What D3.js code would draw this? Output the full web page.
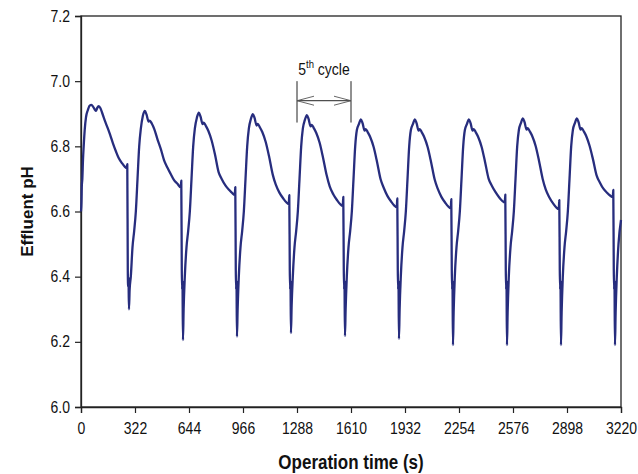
<!DOCTYPE html>
<html>
<head>
<meta charset="utf-8">
<script src="https://cdn.jsdelivr.net/npm/d3@7/dist/d3.min.js"></script>
<style>
	html, body { margin: 0; padding: 0; background: #fff; }
	svg text { font-family: "Liberation Sans", Arial, sans-serif; fill: #111; }
</style>
</head>
<body>
<svg id="chart" width="638" height="474"></svg>
<script>
	// Effluent pH readings [time (s), pH], one line per operation cycle
	const effluentPH = [
		[0, 6.60], [3, 6.63], [5, 6.68], [8, 6.70], [12, 6.76], [16, 6.80], [22, 6.85], [30, 6.89], [40, 6.91], [52, 6.925], [62, 6.927], [72, 6.922], [82, 6.913], [90, 6.909], [97, 6.918], [106, 6.923], [116, 6.917], [128, 6.90], [145, 6.875], [160, 6.855], [174, 6.835], [190, 6.81], [208, 6.785], [224, 6.765], [245, 6.748], [262, 6.737], [272, 6.733], [276, 6.745],
		[279, 6.42], [281, 6.37], [283, 6.40], [286, 6.30], [290, 6.36], [297, 6.40], [307, 6.49], [317, 6.54], [327, 6.60], [337, 6.70], [347, 6.80], [357, 6.855], [369, 6.894], [381, 6.909], [391, 6.897], [403, 6.876], [410, 6.879], [422, 6.87], [437, 6.853], [457, 6.82], [477, 6.79], [495, 6.758], [515, 6.735], [535, 6.715], [554, 6.697], [575, 6.685], [595, 6.674], [598, 6.695],
		[601, 6.42], [603, 6.36], [605, 6.39], [608, 6.205], [612, 6.30], [619, 6.40], [629, 6.49], [639, 6.54], [649, 6.60], [659, 6.70], [669, 6.80], [679, 6.855], [691, 6.888], [703, 6.903], [713, 6.891], [725, 6.868], [732, 6.873], [744, 6.863], [759, 6.848], [779, 6.818], [799, 6.775], [821, 6.72], [839, 6.70], [861, 6.68], [884, 6.666], [901, 6.657], [917, 6.651], [920, 6.675],
		[923, 6.42], [925, 6.36], [927, 6.39], [930, 6.216], [934, 6.30], [941, 6.40], [951, 6.49], [961, 6.54], [971, 6.60], [981, 6.70], [991, 6.80], [1001, 6.855], [1013, 6.884], [1025, 6.899], [1035, 6.887], [1047, 6.864], [1054, 6.869], [1066, 6.859], [1081, 6.844], [1101, 6.814], [1121, 6.77], [1143, 6.714], [1161, 6.683], [1183, 6.658], [1206, 6.64], [1223, 6.629], [1239, 6.623], [1242, 6.65],
		[1245, 6.42], [1247, 6.36], [1249, 6.39], [1252, 6.227], [1256, 6.31], [1263, 6.40], [1273, 6.49], [1283, 6.54], [1293, 6.60], [1303, 6.70], [1313, 6.80], [1323, 6.855], [1335, 6.881], [1347, 6.896], [1357, 6.884], [1369, 6.861], [1376, 6.866], [1388, 6.856], [1403, 6.841], [1423, 6.811], [1443, 6.766], [1465, 6.711], [1483, 6.677], [1505, 6.652], [1528, 6.634], [1545, 6.623], [1561, 6.617], [1564, 6.645],
		[1567, 6.42], [1569, 6.36], [1571, 6.39], [1574, 6.218], [1578, 6.30], [1585, 6.40], [1595, 6.49], [1605, 6.54], [1615, 6.60], [1625, 6.70], [1635, 6.80], [1645, 6.85], [1657, 6.868], [1669, 6.883], [1679, 6.871], [1691, 6.848], [1698, 6.853], [1710, 6.843], [1725, 6.828], [1745, 6.798], [1765, 6.753], [1787, 6.698], [1805, 6.673], [1827, 6.648], [1850, 6.63], [1867, 6.619], [1883, 6.613], [1886, 6.64],
		[1889, 6.42], [1891, 6.36], [1893, 6.39], [1896, 6.209], [1900, 6.30], [1907, 6.40], [1917, 6.49], [1927, 6.54], [1937, 6.60], [1947, 6.70], [1957, 6.80], [1967, 6.85], [1979, 6.868], [1991, 6.883], [2001, 6.871], [2013, 6.848], [2020, 6.853], [2032, 6.843], [2047, 6.828], [2067, 6.798], [2087, 6.753], [2109, 6.698], [2127, 6.67], [2149, 6.645], [2172, 6.627], [2189, 6.616], [2205, 6.61], [2208, 6.638],
		[2211, 6.42], [2213, 6.36], [2215, 6.39], [2218, 6.19], [2222, 6.29], [2229, 6.40], [2239, 6.49], [2249, 6.54], [2259, 6.60], [2269, 6.70], [2279, 6.80], [2289, 6.85], [2301, 6.868], [2313, 6.883], [2323, 6.871], [2335, 6.848], [2342, 6.853], [2354, 6.843], [2369, 6.828], [2389, 6.798], [2409, 6.753], [2431, 6.70], [2449, 6.68], [2471, 6.66], [2494, 6.643], [2511, 6.633], [2527, 6.627], [2530, 6.652],
		[2533, 6.42], [2535, 6.36], [2537, 6.39], [2540, 6.19], [2544, 6.29], [2551, 6.40], [2561, 6.49], [2571, 6.54], [2581, 6.60], [2591, 6.70], [2601, 6.80], [2611, 6.85], [2623, 6.871], [2635, 6.886], [2645, 6.874], [2657, 6.851], [2664, 6.856], [2676, 6.846], [2691, 6.831], [2711, 6.801], [2731, 6.756], [2753, 6.70], [2771, 6.668], [2793, 6.643], [2816, 6.624], [2833, 6.613], [2849, 6.607], [2852, 6.635],
		[2855, 6.42], [2857, 6.36], [2859, 6.39], [2862, 6.19], [2866, 6.29], [2873, 6.40], [2883, 6.49], [2893, 6.54], [2903, 6.60], [2913, 6.70], [2923, 6.80], [2933, 6.85], [2945, 6.871], [2957, 6.886], [2967, 6.874], [2979, 6.851], [2986, 6.856], [2998, 6.846], [3013, 6.831], [3033, 6.801], [3053, 6.76], [3075, 6.71], [3093, 6.69], [3115, 6.67], [3138, 6.657], [3155, 6.649], [3171, 6.644], [3174, 6.666],
		[3177, 6.42], [3179, 6.36], [3181, 6.39], [3184, 6.19], [3188, 6.29], [3195, 6.40], [3205, 6.50], [3220, 6.574],
	]

	const xTicks = [0, 322, 644, 966, 1288, 1610, 1932, 2254, 2576, 2898, 3220]
	const yTicks = [6.0, 6.2, 6.4, 6.6, 6.8, 7.0, 7.2]
	const cycleSpan = [1288, 1610]

	const margin = { top: 16, right: 17, bottom: 67, left: 81 }
	const width = 638
	const height = 474
	const lineColour = "#272d7e"
	// the source figure is slightly stretched vertically
	const stretch = "scale(1, 1.12)"

	const svg = d3.select("#chart")

	const x = d3.scaleLinear()
		.domain([0, 3220])
		.range([margin.left, width - margin.right])
	const y = d3.scaleLinear()
		.domain([6.0, 7.2])
		.range([height - margin.bottom, margin.top])

	// Frame
	svg.append("rect")
		.attr("x", x(0))
		.attr("y", y(7.2))
		.attr("width", x(3220) - x(0))
		.attr("height", y(6.0) - y(7.2))
		.attr("fill", "none")
		.attr("stroke", "#222")
		.attr("stroke-width", 1.3)

	// Axes
	svg.append("g")
		.attr("transform", `translate(0, ${y(6.0)})`)
		.call(d3.axisBottom(x).tickValues(xTicks).tickFormat(d3.format("d")).tickSize(6).tickPadding(8))
	svg.append("g")
		.attr("transform", `translate(${x(0)}, 0)`)
		.call(d3.axisLeft(y).tickValues(yTicks).tickFormat(d3.format(".1f")).tickSize(6).tickPadding(5))

	svg.selectAll(".domain")
		.attr("stroke", "#222")
		.attr("stroke-width", 1.3)
	svg.selectAll(".tick line")
		.attr("stroke", "#222")
		.attr("stroke-width", 1.2)
	svg.selectAll(".tick text")
		.attr("font-family", "Liberation Sans, Arial, sans-serif")
		.attr("font-size", 14)
		.attr("fill", "#1a1a1a")
		.attr("transform", stretch)

	// Axis titles
	svg.append("text")
		.attr("transform", `translate(${(x(0) + x(3220)) / 2}, 469) scale(1, 1.15)`)
		.attr("text-anchor", "middle")
		.attr("font-size", 17)
		.attr("font-weight", "bold")
		.text("Operation time (s)")
	svg.append("text")
		.attr("transform", `translate(33, ${(y(6.0) + y(7.2)) / 2}) rotate(-90)`)
		.attr("text-anchor", "middle")
		.attr("font-size", 17)
		.attr("font-weight", "bold")
		.text("Effluent pH")

	// pH trace
	const line = d3.line()
		.x(d => x(d[0]))
		.y(d => y(d[1]))
		.curve(d3.curveMonotoneX)

	svg.append("path")
		.datum(effluentPH)
		.attr("d", line)
		.attr("fill", "none")
		.attr("stroke", lineColour)
		.attr("stroke-width", 2.3)
		.attr("stroke-linejoin", "round")

	// 5th cycle annotation
	const note = svg.append("g")
	const arrowY = y(6.94)
	const [left, right] = cycleSpan.map(x)

	note.selectAll("line.bound")
		.data(cycleSpan)
		.join("line")
		.attr("class", "bound")
		.attr("x1", d => x(d))
		.attr("x2", d => x(d))
		.attr("y1", y(7.0))
		.attr("y2", y(6.873))
		.attr("stroke", "#222")
		.attr("stroke-width", 1)
	note.append("line")
		.attr("x1", left)
		.attr("x2", right)
		.attr("y1", arrowY)
		.attr("y2", arrowY)
		.attr("stroke", "#222")
		.attr("stroke-width", 1)
	note.append("path")
		.attr("d", `M${left + 17},${arrowY - 4.5}L${left},${arrowY}L${left + 17},${arrowY + 4.5}` +
			`M${right - 17},${arrowY - 4.5}L${right},${arrowY}L${right - 17},${arrowY + 4.5}`)
		.attr("fill", "none")
		.attr("stroke", "#555")
		.attr("stroke-width", 0.9)

	const label = note.append("text")
		.attr("transform", `translate(${(left + right) / 2}, 75) ${stretch}`)
		.attr("text-anchor", "middle")
		.attr("font-size", 14)
	label.append("tspan").text("5")
	label.append("tspan")
		.attr("font-size", 9.5)
		.attr("dy", -6)
		.text("th")
	label.append("tspan")
		.attr("dy", 6)
		.text(" cycle")
</script>
</body>
</html>
